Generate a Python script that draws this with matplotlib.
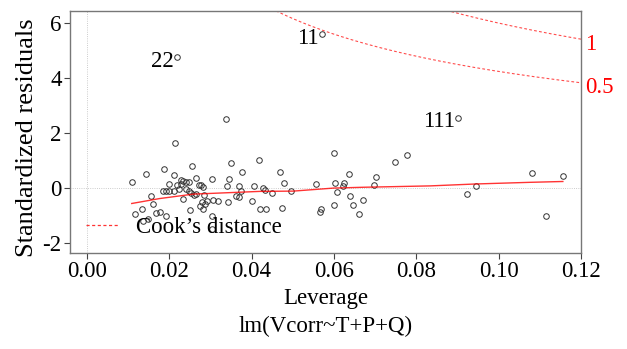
import numpy as np
import matplotlib
matplotlib.use("Agg")
import matplotlib.pyplot as plt

plt.rcParams['font.family'] = ['Liberation Serif', 'DejaVu Serif']
plt.rcParams['axes.unicode_minus'] = False

# leverage / standardized residuals
leverage = [0.0109, 0.0116, 0.0134, 0.0137, 0.0143, 0.0149, 0.0156, 0.0160, 0.0168, 0.0178,
            0.0188, 0.0192, 0.0186, 0.0193, 0.0199, 0.0199, 0.0211, 0.0211, 0.0215, 0.0218,
            0.0223, 0.0228, 0.0234, 0.0241, 0.0247, 0.0228, 0.0233, 0.0241, 0.0247, 0.0252,
            0.0255, 0.0250, 0.0261, 0.0265, 0.0265, 0.0273, 0.0276, 0.0282, 0.0274, 0.0280,
            0.0285, 0.0291, 0.0288, 0.0283, 0.0304, 0.0306, 0.0318, 0.0304, 0.0303, 0.0341,
            0.0343, 0.0345, 0.0350, 0.0362, 0.0369, 0.0369, 0.0374, 0.0376, 0.0401, 0.0407,
            0.0419, 0.0421, 0.0436, 0.0428, 0.0433, 0.0450, 0.0469, 0.0479, 0.0474, 0.0496,
            0.0556, 0.0565, 0.0568, 0.0599, 0.0603, 0.0607, 0.0600, 0.0625, 0.0621, 0.0636,
            0.0638, 0.0646, 0.0661, 0.0671, 0.0698, 0.0702, 0.0749, 0.0778, 0.0923, 0.0946,
            0.1082, 0.1114, 0.1156, 0.0339, 0.0901, 0.0570, 0.0219]
std_resid = [0.22, -0.96, -0.75, -1.19, 0.51, -1.14, -0.30, -0.59, -0.91, -0.88,
             0.68, -1.03, -0.11, -0.11, -0.10, 0.15, -0.10, 0.46, 1.65, 0.11,
             -0.03, 0.29, 0.24, 0.22, 0.22, 0.16, -0.41, -0.05, -0.11, -0.17,
             0.80, -0.79, -0.24, -0.22, 0.35, 0.13, 0.12, 0.03, -0.64, -0.50,
             -0.24, -0.47, -0.58, -0.76, 0.34, -0.45, -0.47, -1.01, -1.50, 0.07,
             -0.52, 0.33, 0.90, -0.27, -0.34, 0.08, -0.11, 0.59, -0.48, 0.07,
             1.01, -0.75, -0.75, 0.01, -0.08, -0.18, 0.59, 0.19, -0.73, -0.12,
             0.16, -0.86, -0.77, 1.26, 0.19, -0.13, -0.63, 0.17, 0.08, 0.53,
             -0.30, -0.63, -0.95, -0.44, 0.13, 0.39, 0.95, 1.20, -0.22, 0.06,
             0.56, -1.03, 0.44, 2.51, 2.55, 5.59, 4.75]

# red smoother
smooth_x = [0.0109, 0.0177, 0.0258, 0.0339, 0.0420, 0.0501, 0.0599, 0.0671, 0.0834, 0.0945, 0.1077, 0.1156]
smooth_y = [-0.56, -0.38, -0.22, -0.17, -0.12, -0.11, 0.00, 0.03, 0.08, 0.15, 0.21, 0.24]

# labelled observations
labels = ["22", "11", "111"]
label_x = [0.0219, 0.0570, 0.0901]
label_y = [4.75, 5.59, 2.55]

cook_levels = [0.5, 1]
n_params = 4

fig = plt.figure(figsize=(6.27, 3.49), dpi=100)
ax = fig.add_axes([0.1116, 0.2751, 0.815, 0.6934])
fs = 16.5
dash = (0, (2.5, 2))

ax.axhline(0, color='#bbbbbb', lw=0.6, ls=':', zorder=0)
ax.axvline(0, color='#bbbbbb', lw=0.6, ls=':', zorder=0)

ax.plot(leverage, std_resid, 'o', mfc='none', mec='#333333', ms=4, mew=0.7)
ax.plot(smooth_x, smooth_y, color='red', lw=1.0, alpha=0.8)

for lab, lx, ly in zip(labels, label_x, label_y):
    ax.annotate(lab, (lx, ly), xytext=(-3, -4), textcoords='offset pixels',
                ha='right', va='center', fontsize=fs)

# Cook's distance contours
h = np.linspace(0.001, 0.12, 300)
for lev in cook_levels:
    r = np.sqrt(lev * n_params * (1 - h) / h)
    ax.plot(h, r, color='red', lw=0.8, ls=dash, alpha=0.7)
    ax.plot(h, -r, color='red', lw=0.8, ls=dash, alpha=0.7)
    ax.annotate(f"{lev:g}", (0.12, r[-1]), xytext=(4, -5), textcoords='offset pixels',
                color='red', fontsize=fs, ha='left', va='center', annotation_clip=False)

ax.plot([], [], color='red', lw=0.9, ls=dash, alpha=0.8, label='Cook\u2019s distance')
ax.legend(loc='center left', frameon=False, fontsize=fs, handlelength=1.45,
          handletextpad=0.72, bbox_to_anchor=(0.031, 0.107), borderaxespad=0, borderpad=0)

ax.set_xlim(-0.0041, 0.12)
ax.set_ylim(-2.36, 6.44)
ax.set_xticks([0.00, 0.02, 0.04, 0.06, 0.08, 0.10, 0.12])
ax.set_xticklabels(["0.00", "0.02", "0.04", "0.06", "0.08", "0.10", "0.12"])
ax.set_yticks([-2, 0, 2, 4, 6])
ax.tick_params(labelsize=fs, length=4, width=0.8, color='#444444', pad=2)
for s in ax.spines.values():
    s.set_color('#777777')
    s.set_linewidth(1.0)

fig.text(0.043, 0.605, 'Standardized residuals', rotation=90, ha='center', va='center', fontsize=19)
fig.text(0.52, 0.145, 'Leverage', ha='center', va='center', fontsize=fs)
fig.text(0.52, 0.066, 'lm(Vcorr~T+P+Q)', ha='center', va='center', fontsize=fs)

fig.savefig('out.png', dpi=100)
